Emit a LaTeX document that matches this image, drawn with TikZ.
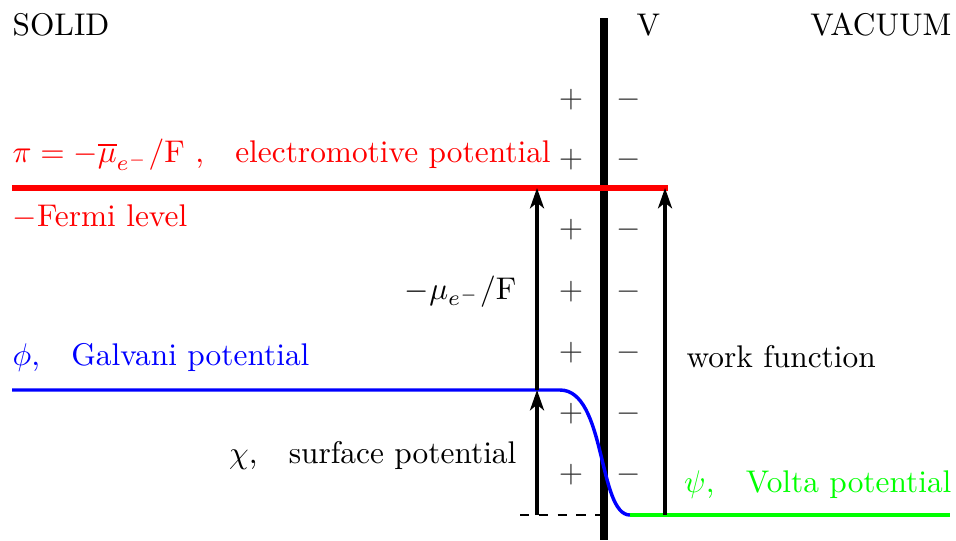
\documentclass[tikz,border=0pt]{standalone}
\usepackage{amsmath}
\usepackage{tikz}
\usetikzlibrary{arrows.meta,positioning,calc}
\begin{document}
\begin{tikzpicture}[
  x=0.319pt, y=-0.319pt,
  lbl/.style={inner sep=0pt, anchor=west},
  rlbl/.style={inner sep=0pt, anchor=east},
  sign/.style={inner sep=0pt, text=black!80},
  arr/.style={-{Stealth[length=6.5pt, width=4.5pt, inset=1.8pt]}, line width=1pt},
  bar/.style={line width=2.7pt}
]
\useasboundingbox (0,0) rectangle (956,540);
% ---------------- headings
\node[lbl] (solid) at (12,25) {SOLID};
\node[lbl] (v) at (636,25) {V};
\node[rlbl] (vac) at (952,25) {VACUUM};
% ---------------- interface and charges
\coordinate (bartop) at (604,18);
\coordinate (barbot) at (604,540);
\draw[bar] (bartop) -- (barbot);
\foreach \y [count=\i] in {100,160,230,292,353,414,475} {
  \node[sign] (p\i) at (571,\y) {$+$};
  \node[sign] (m\i) at (629,\y) {$-$};
}
% ---------------- levels
\coordinate (redL) at (12,188);
\coordinate (redR) at (668,188);
\draw[red, line width=1.7pt] (redL) -- (redR);
\node[lbl, text=red] (pi) at (12,155) {$\pi = -\overline{\mu}_{e^-}/\mathrm{F}$ ,\quad electromotive potential};
\node[lbl, text=red] (fermi) at (12,217) {$-$Fermi level};
\coordinate (blueL) at (12,390);
\coordinate (blueK) at (560,390);
\coordinate (base) at (630,515);
\coordinate (greenR) at (950,515);
\draw[blue, line width=1.1pt] (blueL) -- (blueK) .. controls (606,390) and (598,515) .. (base);
\draw[green, line width=1.3pt] (base) -- (greenR);
\node[lbl, text=blue] (phi) at (12,357) {$\phi$,\quad Galvani potential};
\node[rlbl, text=green] (psi) at (952,485) {$\psi$,\quad Volta potential};
% ---------------- arrows
\coordinate (a0) at (537,515);
\coordinate (a1) at (537,390);
\coordinate (a2) at (537,188);
\coordinate (w0) at (665,515);
\coordinate (w1) at (665,188);
\coordinate (dashL) at (520,515);
\draw[dashed, line width=0.6pt] (dashL) -- (604,515);
\draw[arr] (a0) -- (a1);
\draw[arr] (a1) -- (a2);
\draw[arr] (w0) -- (w1);
\node[rlbl] (mu) at (517,292) {$-\mu_{e^-}/\mathrm{F}$};
\node[rlbl] (chi) at (517,455) {$\chi$,\quad surface potential};
\node[lbl] (work) at (686,357) {work function};
\end{tikzpicture}
\end{document}
